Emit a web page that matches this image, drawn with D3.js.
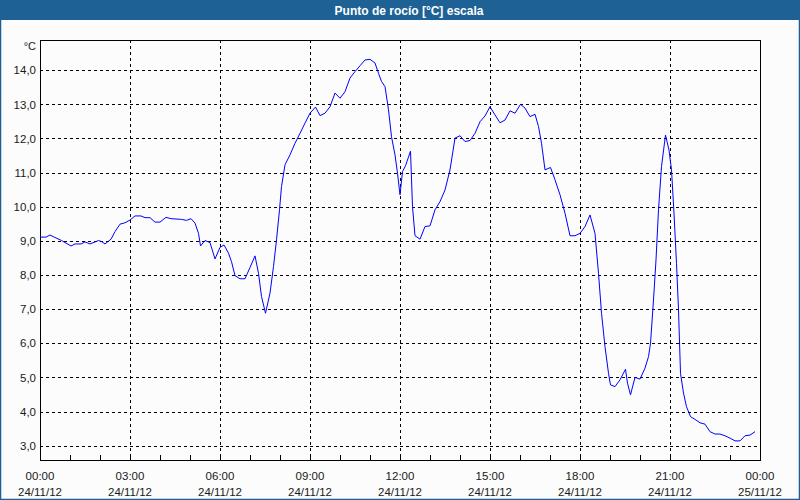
<!DOCTYPE html>
<html><head><meta charset="utf-8">
<script src="https://cdn.jsdelivr.net/npm/d3@7"></script>
<style>
html,body{margin:0;padding:0;background:#fbfcfb;}
svg{display:block;}
text{font-family:"Liberation Sans",Arial,sans-serif;}
</style></head>
<body>
<svg id="chart" width="800" height="500"></svg>
<script>
const title = "Punto de rocío [°C] escala";
const unitLabel = "°C";
const times = ["00:00","00:12","00:20","00:30","00:43","01:02","01:10","01:22","01:30","01:40","01:57","02:03","02:10","02:22","02:30","02:40","02:50","03:00","03:10","03:22","03:30","03:40","03:50","04:00","04:12","04:22","04:43","04:53","05:02","05:10","05:17","05:21","05:30","05:40","05:50","06:00","06:08","06:17","06:23","06:30","06:40","06:50","07:00","07:10","07:17","07:23","07:31","07:40","07:47","07:53","07:59","08:03","08:10","08:20","08:30","08:40","08:50","09:00","09:11","09:20","09:30","09:40","09:50","10:00","10:10","10:20","10:30","10:40","10:50","11:00","11:10","11:17","11:23","11:30","11:37","11:43","11:50","11:55","12:00","12:05","12:11","12:21","12:25","12:30","12:40","12:50","13:00","13:10","13:20","13:30","13:40","13:50","14:00","14:10","14:20","14:30","14:40","14:50","15:00","15:10","15:20","15:30","15:40","15:50","16:01","16:10","16:20","16:30","16:37","16:43","16:50","17:01","17:10","17:20","17:30","17:40","17:50","18:00","18:10","18:20","18:30","18:37","18:43","18:50","18:57","19:01","19:10","19:20","19:31","19:35","19:41","19:50","20:00","20:10","20:17","20:21","20:27","20:32","20:37","20:43","20:51","20:58","21:03","21:08","21:13","21:17","21:21","21:27","21:33","21:41","21:50","22:00","22:10","22:20","22:30","22:40","22:50","23:00","23:10","23:20","23:30","23:40","23:50"];
const dewPoint = [9.11,9.11,9.17,9.10,9.01,8.85,8.91,8.91,8.97,8.91,9.01,8.98,8.91,9.05,9.27,9.49,9.53,9.61,9.73,9.73,9.68,9.68,9.55,9.55,9.69,9.65,9.63,9.60,9.65,9.52,9.22,8.85,9.01,8.95,8.47,8.81,8.88,8.64,8.39,7.98,7.89,7.89,8.22,8.56,8.05,7.37,6.88,7.47,8.25,9.03,9.91,10.59,11.23,11.52,11.86,12.15,12.45,12.74,12.92,12.67,12.74,12.93,13.33,13.18,13.37,13.77,13.96,14.13,14.30,14.32,14.21,13.91,13.67,13.52,12.84,12.05,11.52,10.98,10.35,11.03,11.20,11.63,10.00,9.15,9.05,9.42,9.44,9.91,10.15,10.49,11.08,12.01,12.08,11.91,11.94,12.15,12.49,12.66,12.93,12.69,12.46,12.54,12.81,12.74,13.00,12.89,12.64,12.71,12.35,11.86,11.08,11.15,10.79,10.35,9.81,9.15,9.15,9.22,9.42,9.76,9.22,8.05,6.88,5.90,5.12,4.78,4.73,4.93,5.24,4.83,4.49,5.00,4.95,5.27,5.61,6.00,7.27,8.44,9.91,11.18,12.10,11.66,11.08,9.81,8.34,6.98,5.12,4.54,4.14,3.85,3.77,3.67,3.63,3.41,3.34,3.34,3.29,3.22,3.14,3.14,3.29,3.31,3.41];
const yTicks = [3,4,5,6,7,8,9,10,11,12,13,14];
const xTickTimes = ["00:00","03:00","06:00","09:00","12:00","15:00","18:00","21:00","00:00"];
const xTickDates = ["24/11/12","24/11/12","24/11/12","24/11/12","24/11/12","24/11/12","24/11/12","24/11/12","25/11/12"];
const xTickHours = [0,3,6,9,12,15,18,21,24];

const svg = d3.select("#chart");
const W = 800, H = 500;
const m = {left:40, right:760, top:40, bottom:460};
const txtCol = "#1a1a1a";

// outer frame & title bar
svg.append("rect").attr("x",0.5).attr("y",0.5).attr("width",W-1).attr("height",H-1)
  .attr("fill","#fbfcfb").attr("stroke","#1d5f95").attr("stroke-width",1.5);
svg.append("rect").attr("x",0).attr("y",0).attr("width",W).attr("height",20).attr("fill","#1d6195");
svg.append("text").attr("x",409).attr("y",14.5).attr("text-anchor","middle")
  .attr("fill","#ffffff").attr("font-weight","bold").attr("font-size",12).text(title);

const base = new Date(2012,10,24,0,0);
const parse = s => { const [h,mm] = s.split(":").map(Number); return new Date(base.getTime() + (h*60+mm)*60000); };
const x = d3.scaleTime().domain([base, d3.timeHour.offset(base,24)]).range([m.left, m.right]);
const y = d3.scaleLinear().domain([2.58, 14.885]).range([m.bottom, m.top]);

// grid lines
const g = svg.append("g").attr("shape-rendering","crispEdges");
yTicks.forEach(v => {
  g.append("line").attr("x1",m.left).attr("x2",m.right).attr("y1",Math.round(y(v))+0.5).attr("y2",Math.round(y(v))+0.5)
   .attr("stroke","#000").attr("stroke-dasharray","3,3");
});
xTickHours.slice(1,-1).forEach(hh => {
  const xx = Math.round(x(d3.timeHour.offset(base,hh)))+0.5;
  g.append("line").attr("x1",xx).attr("x2",xx).attr("y1",m.top).attr("y2",m.bottom)
   .attr("stroke","#000").attr("stroke-dasharray","3,3");
});

// bottom axis with hourly ticks (inward)
const xAxis = d3.axisBottom(x).ticks(d3.timeHour.every(1)).tickSize(-5).tickFormat("");
const ax = svg.append("g").attr("transform",`translate(0,${m.bottom})`).call(xAxis);
ax.select(".domain").remove();
ax.selectAll("line").attr("stroke","#000").attr("shape-rendering","crispEdges");

// frame
svg.append("rect").attr("x",m.left+0.5).attr("y",m.top+0.5).attr("width",m.right-m.left).attr("height",m.bottom-m.top)
  .attr("fill","none").attr("stroke","#000").attr("shape-rendering","crispEdges");

// y labels
const fmt = v => d3.format(".1f")(v).replace(".",",");
const yAxis = d3.axisLeft(y).tickValues(yTicks).tickSize(0).tickPadding(4).tickFormat(fmt);
const ay = svg.append("g").attr("transform",`translate(${m.left},0)`).call(yAxis);
ay.select(".domain").remove();
ay.selectAll("text").attr("font-size",11.5).attr("fill",txtCol).attr("font-family","'Liberation Sans', Arial, sans-serif");
svg.append("text").attr("x",36).attr("y",50).attr("text-anchor","end").attr("font-size",11).attr("fill",txtCol).text(unitLabel);

// x labels
xTickHours.forEach((hh,i) => {
  const xx = x(d3.timeHour.offset(base,hh));
  svg.append("text").attr("x",xx).attr("y",480).attr("text-anchor","middle").attr("font-size",11.5).attr("fill",txtCol).text(xTickTimes[i]);
  svg.append("text").attr("x",xx).attr("y",496).attr("text-anchor","middle").attr("font-size",11.5).attr("fill",txtCol).text(xTickDates[i]);
});

// data line
const data = times.map((t,i) => ({t:parse(t), v:dewPoint[i]}));
svg.append("path").datum(data)
  .attr("d", d3.line().x(d=>x(d.t)).y(d=>y(d.v)))
  .attr("fill","none").attr("stroke","#0000ff").attr("stroke-width",1);
</script>
</body></html>
